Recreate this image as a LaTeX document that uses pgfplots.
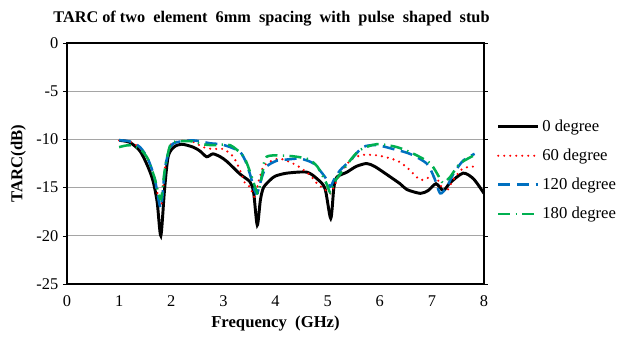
\documentclass[border=0pt]{standalone}
\usepackage{fontspec}
\setmainfont{Liberation Serif}
\usepackage{pgfplots}
\pgfplotsset{compat=1.18}
\definecolor{exblue}{RGB}{0,112,192}
\definecolor{exgreen}{RGB}{0,176,80}
\definecolor{gridgray}{RGB}{165,165,165}
\begin{document}
\begin{tikzpicture}
\path[use as bounding box] (-50.25pt,-46.5pt) rectangle (414pt,213pt);
\begin{axis}[
  scale only axis,
  width=312.75pt, height=180.75pt,
  xmin=0, xmax=8, ymin=-25, ymax=0,
  xtick={0,1,...,8}, ytick={-25,-20,...,0},
  /pgf/number format/assume math mode=true,
  tick label style={font=\fontsize{12.3}{14}\selectfont},
  xtick style={draw=none},
  ytick style={black, thin},
  tick align=outside, major tick length=3pt,
  ymajorgrids, grid style={gridgray, line width=0.8pt},
  axis line style={black, line width=0.9pt},
  xticklabel style={yshift=-2pt},
  title={TARC of two \ element \ 6mm \ spacing \ with \ pulse \ shaped \ stub},
  title style={font=\bfseries\fontsize{12.2}{14}\selectfont, yshift=3pt, xshift=-3pt},
  xlabel={Frequency \ (GHz)},
  ylabel={TARC(dB)},
  label style={font=\bfseries\fontsize{12.5}{14}\selectfont},
  xlabel style={yshift=0pt},
  ylabel style={yshift=1pt},
  legend style={at={(1.03,0.472)}, anchor=west, draw=none, fill=none,
    font=\fontsize{12.5}{14}\selectfont, row sep=7.6pt, inner sep=0pt},
  legend cell align=left,
  legend image code/.code={\draw[#1] (0pt,0pt) -- (30pt,0pt);},
]
\addplot[black, line width=2.2pt, smooth, tension=0.45] coordinates {
(1.0,-10.1) (1.2,-10.3) (1.4,-11.2) (1.55,-12.8) (1.65,-14.3) (1.73,-16.5) (1.8,-20.0) (1.87,-15.3) (1.94,-11.8) (2.05,-10.8) (2.2,-10.5) (2.42,-10.8) (2.55,-11.2) (2.68,-11.8) (2.8,-11.5) (2.94,-11.8) (3.07,-12.3) (3.32,-13.6) (3.51,-14.4) (3.58,-15.5) (3.65,-18.9) (3.71,-16.3) (3.77,-15.0) (3.9,-14.2) (4.0,-13.8) (4.22,-13.5) (4.6,-13.4) (4.8,-14.1) (4.95,-15.1) (5.06,-18.2) (5.12,-15.0) (5.18,-13.9) (5.37,-13.4) (5.55,-12.8) (5.75,-12.5) (5.9,-12.8) (6.07,-13.4) (6.39,-14.6) (6.52,-15.2) (6.78,-15.6) (6.93,-15.3) (7.08,-14.6) (7.22,-15.3) (7.35,-14.5) (7.6,-13.5) (7.8,-14.1) (8.0,-15.6)
};
\addlegendentry{0 degree}
\addplot[red, line width=1.8pt, line cap=round, dash pattern=on 0pt off 4.5pt, smooth, tension=0.45] coordinates {
(1.0,-10.1) (1.2,-10.2) (1.4,-10.9) (1.55,-12.0) (1.68,-14.0) (1.8,-17.0) (1.88,-13.0) (1.98,-10.6) (2.15,-10.2) (2.36,-10.1) (2.61,-10.8) (2.8,-11.0) (3.0,-11.0) (3.19,-11.8) (3.32,-13.2) (3.42,-14.6) (3.51,-14.9) (3.6,-16.0) (3.68,-14.3) (3.77,-12.8) (3.9,-12.3) (4.09,-12.0) (4.41,-12.7) (4.66,-13.7) (4.8,-14.6) (4.95,-15.2) (5.06,-15.6) (5.2,-14.0) (5.43,-12.2) (5.68,-11.6) (6.0,-11.7) (6.33,-12.2) (6.52,-12.9) (6.78,-14.2) (6.97,-13.9) (7.1,-14.1) (7.26,-15.5) (7.41,-14.2) (7.6,-13.0) (7.89,-12.8)
};
\addlegendentry{60 degree}
\addplot[exblue, line width=1.9pt, dash pattern=on 9pt off 5pt, smooth, tension=0.45] coordinates {
(1.0,-10.1) (1.2,-10.2) (1.4,-10.8) (1.55,-12.0) (1.68,-14.0) (1.8,-17.1) (1.88,-13.0) (1.98,-10.8) (2.1,-10.3) (2.42,-10.1) (2.74,-10.4) (2.94,-10.5) (3.13,-10.8) (3.32,-11.3) (3.42,-12.2) (3.51,-13.6) (3.6,-15.3) (3.65,-15.6) (3.74,-13.9) (3.83,-12.8) (4.03,-12.2) (4.2,-12.1) (4.47,-12.0) (4.73,-12.5) (4.95,-13.9) (5.05,-14.9) (5.12,-14.2) (5.24,-13.2) (5.43,-12.2) (5.68,-10.8) (5.94,-10.6) (6.26,-11.0) (6.58,-11.5) (6.9,-12.5) (7.04,-13.9) (7.16,-15.6) (7.29,-14.9) (7.41,-13.6) (7.6,-12.2) (7.82,-11.5)
};
\addlegendentry{120 degree}
\addplot[exgreen, line width=1.9pt, dash pattern=on 9pt off 4pt on 1pt off 4pt, smooth, tension=0.45] coordinates {
(1.0,-10.8) (1.2,-10.6) (1.4,-11.0) (1.55,-12.0) (1.68,-14.0) (1.8,-16.2) (1.88,-13.0) (1.98,-10.6) (2.1,-10.2) (2.4,-10.2) (2.6,-10.5) (2.8,-10.6) (3.13,-10.6) (3.39,-11.8) (3.52,-13.5) (3.63,-15.3) (3.67,-15.5) (3.75,-13.5) (3.83,-11.8) (4.22,-11.7) (4.6,-12.0) (4.8,-12.8) (4.98,-14.6) (5.05,-15.5) (5.12,-14.5) (5.24,-13.6) (5.43,-12.2) (5.62,-11.1) (5.94,-10.5) (6.33,-10.8) (6.65,-11.5) (6.97,-12.5) (7.16,-14.1) (7.22,-14.5) (7.35,-13.9) (7.54,-12.5) (7.83,-11.6)
};
\addlegendentry{180 degree}
\end{axis}
\end{tikzpicture}
\end{document}
